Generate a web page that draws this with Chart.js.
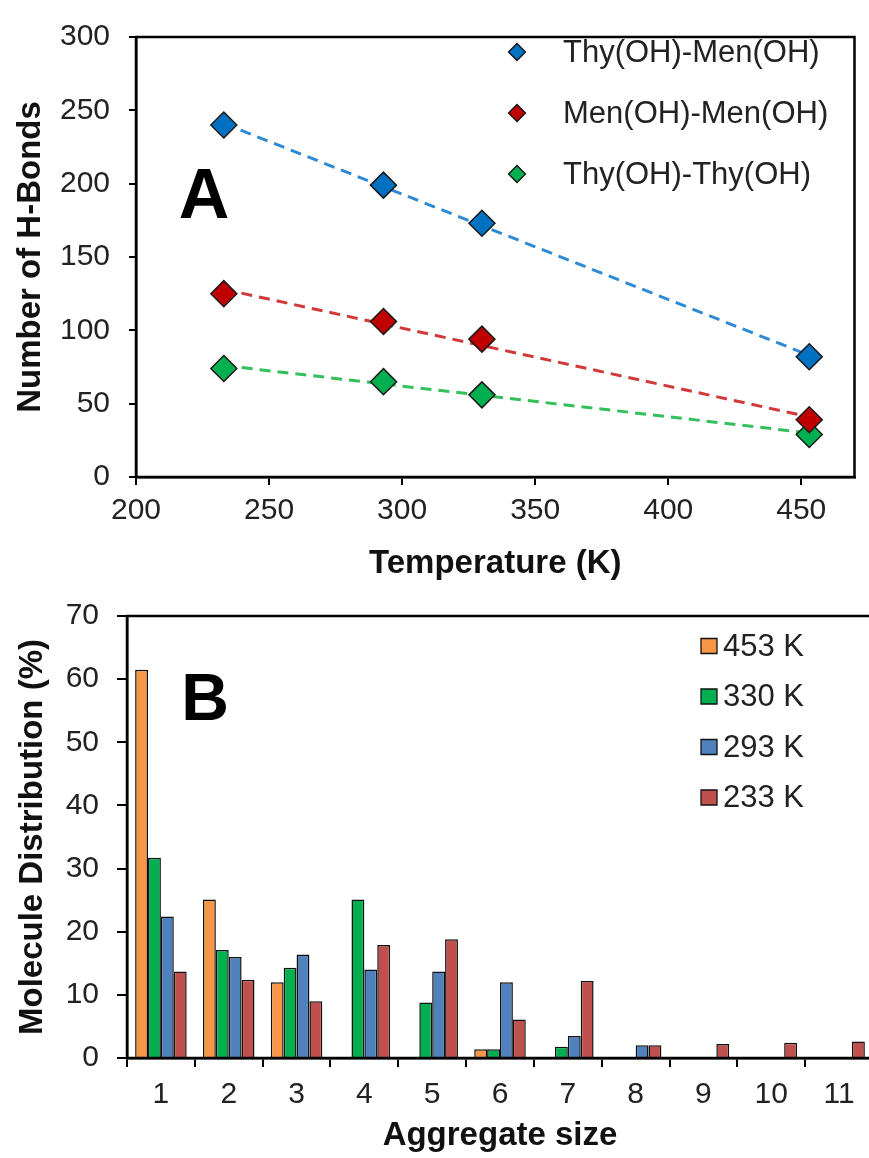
<!DOCTYPE html>
<html>
<head>
<meta charset="utf-8">
<script src="https://cdn.jsdelivr.net/npm/chart.js@4.4.0/dist/chart.umd.min.js"></script>
<style>
  html, body { margin: 0; padding: 0; background: #fff; overflow: hidden; }
  #wrap { position: relative; width: 869px; height: 1158px; overflow: hidden; }
  #boxA { position: absolute; left: 0; top: 0; width: 869px; height: 580px; }
  #boxB { position: absolute; left: 0; top: 580px; width: 880px; height: 578px; }
</style>
</head>
<body>
<div id="wrap">
  <div id="boxA"><canvas id="chartA"></canvas></div>
  <div id="boxB"><canvas id="chartB"></canvas></div>
</div>
<script>
// panel A - H-bonds vs temperature
const temps = [233, 293, 330, 453];
const thyMen = [240, 199, 173, 82];
const menMen = [125, 106, 94, 39];
const thyThy = [74, 65, 56, 29];
// dashed trend lines, ends
const trendT = [233, 453];
const thyMenTrend = [241, 83];
const menMenTrend = [128, 41];
const thyThyTrend = [76, 30];

// panel B - aggregate size distribution
const sizes = ['1', '2', '3', '4', '5', '6', '7', '8', '9', '10', '11'];
const k453 = [61.5, 25.1, 12.0, 0, 0, 1.4, 0, 0, 0, 0, 0];
const k330 = [31.7, 17.1, 14.3, 25.1, 8.8, 1.4, 1.8, 0, 0, 0, 0];
const k293 = [22.4, 16.0, 16.4, 14.0, 13.7, 12.0, 3.5, 2.0, 0, 0, 0];
const k233 = [13.7, 12.4, 9.0, 17.9, 18.8, 6.1, 12.2, 2.0, 2.2, 2.4, 2.6];

const FONT = "'Liberation Sans', Arial, sans-serif";
const pts = (xs, ys) => xs.map((x, i) => ({ x: x, y: ys[i] }));

// frame, big panel letter and a legend drawn inside the plot
const panelDeco = {
  id: 'panelDeco',
  afterDraw(chart, args, o) {
    const ctx = chart.ctx;
    const a = chart.chartArea;
    ctx.save();
    ctx.strokeStyle = '#000';
    ctx.lineWidth = 2.5;
    ctx.strokeRect(a.left, a.top, a.right - a.left, a.bottom - a.top);

    ctx.fillStyle = '#000';
    ctx.font = 'bold ' + o.letterSize + 'px ' + FONT;
    ctx.textAlign = 'center';
    ctx.textBaseline = 'middle';
    ctx.fillText(o.letter, o.letterX, o.letterY);

    ctx.font = o.legendSize + 'px ' + FONT;
    ctx.textAlign = 'left';
    const items = chart.data.datasets.filter(ds => !ds.isTrend);
    items.forEach((ds, i) => {
      const y = o.legendY + i * o.legendGap;
      const x = o.legendX;
      ctx.fillStyle = ds.backgroundColor;
      ctx.strokeStyle = '#111';
      ctx.lineWidth = 1.3;
      ctx.beginPath();
      if (o.marker === 'diamond') {
        const r = 8.5;
        ctx.moveTo(x, y - r);
        ctx.lineTo(x + r, y);
        ctx.lineTo(x, y + r);
        ctx.lineTo(x - r, y);
        ctx.closePath();
      } else {
        ctx.rect(x - 8, y - 7.5, 16, 15);
      }
      ctx.fill();
      ctx.stroke();
      ctx.fillStyle = '#222';
      ctx.fillText(ds.label, x + o.textGap, y + 1);
    });
    ctx.restore();
  }
};

const axisBits = {
  border: { color: '#000', width: 2.5 },
  grid: { drawOnChartArea: false, drawTicks: true, color: '#000', lineWidth: 2 }
};

new Chart(document.getElementById('chartA'), {
  type: 'scatter',
  data: {
    datasets: [
      { label: 'Thy(OH)-Men(OH)', data: pts(temps, thyMen), backgroundColor: '#0070C0' },
      { label: 'Men(OH)-Men(OH)', data: pts(temps, menMen), backgroundColor: '#C00000' },
      { label: 'Thy(OH)-Thy(OH)', data: pts(temps, thyThy), backgroundColor: '#00B050' },
      { isTrend: true, data: pts(trendT, thyMenTrend), borderColor: '#2F8AD6' },
      { isTrend: true, data: pts(trendT, menMenTrend), borderColor: '#D23A3A' },
      { isTrend: true, data: pts(trendT, thyThyTrend), borderColor: '#33BF5C' }
    ].map(ds => ds.isTrend
      ? Object.assign(ds, { showLine: true, pointRadius: 0, borderWidth: 3, borderDash: [11, 7] })
      : Object.assign(ds, { pointStyle: 'rectRot', pointRadius: 13, borderColor: '#1a1a1a', borderWidth: 1.5 }))
  },
  options: {
    responsive: true,
    maintainAspectRatio: false,
    animation: false,
    layout: { padding: { left: 0, right: 13, top: 29, bottom: 0 } },
    plugins: {
      legend: { display: false },
      tooltip: { enabled: false },
      panelDeco: {
        letter: 'A', letterSize: 70, letterX: 204, letterY: 199,
        legendX: 517, legendY: 52, legendGap: 61, legendSize: 31, textGap: 46, marker: 'diamond'
      }
    },
    scales: {
      x: {
        min: 200, max: 470,
        ...axisBits,
        grid: { ...axisBits.grid, tickLength: 8 },
        ticks: { stepSize: 50, includeBounds: false, color: '#222', padding: 8, font: { family: FONT, size: 30 } },
        title: { display: true, text: 'Temperature (K)', color: '#111', padding: { top: 0, bottom: 0 },
                 font: { family: FONT, size: 33, weight: 'bold', lineHeight: 1 } },
        afterFit: s => { s.height = 103; }
      },
      y: {
        min: 0, max: 300,
        ...axisBits,
        grid: { ...axisBits.grid, tickLength: 7 },
        ticks: { stepSize: 50, color: '#222', padding: 19, font: { family: FONT, size: 30 } },
        title: { display: true, text: 'Number of H-Bonds', color: '#111', padding: { top: 14, bottom: 0 },
                 font: { family: FONT, size: 33, weight: 'bold', lineHeight: 1 } },
        afterFit: s => { s.width = 136; }
      }
    }
  },
  plugins: [panelDeco]
});

new Chart(document.getElementById('chartB'), {
  type: 'bar',
  data: {
    labels: sizes,
    datasets: [
      { label: '453 K', data: k453, backgroundColor: '#F79646' },
      { label: '330 K', data: k330, backgroundColor: '#00B050' },
      { label: '293 K', data: k293, backgroundColor: '#4F81BD' },
      { label: '233 K', data: k233, backgroundColor: '#C0504D' }
    ].map(ds => Object.assign(ds, {
      borderColor: '#111', borderWidth: 1.5, categoryPercentage: 0.76, barPercentage: 1.0
    }))
  },
  options: {
    responsive: true,
    maintainAspectRatio: false,
    animation: false,
    layout: { padding: { left: 0, right: 7, top: 29, bottom: 0 } },
    plugins: {
      legend: { display: false },
      tooltip: { enabled: false },
      panelDeco: {
        letter: 'B', letterSize: 66, letterX: 205, letterY: 122,
        legendX: 709, legendY: 66, legendGap: 50.5, legendSize: 31, textGap: 14, marker: 'square'
      }
    },
    scales: {
      x: {
        ...axisBits,
        grid: { ...axisBits.grid, offset: true, tickLength: 9 },
        ticks: { color: '#222', padding: 10, font: { family: FONT, size: 30 } },
        title: { display: true, text: 'Aggregate size', color: '#111', padding: { top: 0, bottom: 6 },
                 font: { family: FONT, size: 33, weight: 'bold', lineHeight: 1 } },
        afterFit: s => { s.height = 100; }
      },
      y: {
        min: 0, max: 70,
        ...axisBits,
        grid: { ...axisBits.grid, tickLength: 10 },
        ticks: { stepSize: 10, color: '#222', padding: 18, font: { family: FONT, size: 30 } },
        title: { display: true, text: 'Molecule Distribution (%)', color: '#111', padding: { top: 16, bottom: 0 },
                 font: { family: FONT, size: 33, weight: 'bold', lineHeight: 1 } },
        afterFit: s => { s.width = 127; }
      }
    }
  },
  plugins: [panelDeco]
});
</script>
</body>
</html>
